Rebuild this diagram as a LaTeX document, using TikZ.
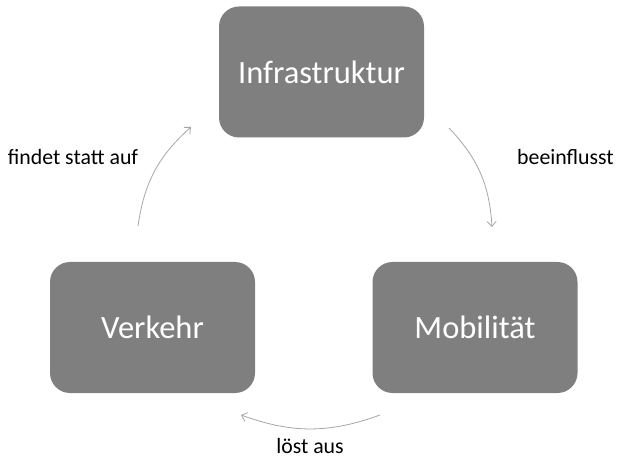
\documentclass[tikz,border=0pt]{standalone}
\usepackage{fontspec}
\setmainfont{Carlito}
\usetikzlibrary{arrows.meta}
\definecolor{boxgray}{HTML}{7F7F7F}
\definecolor{arrowgray}{HTML}{A6A6A6}
\begin{document}
\begin{tikzpicture}[x=1pt,y=1pt,
  box/.style={fill=boxgray, draw=none, rounded corners=20pt, minimum width=205pt, minimum height=131pt, text=white, font=\fontsize{32.5}{36}\selectfont, inner sep=0pt},
  conn/.style={draw=arrowgray, line width=0.8pt, -{Straight Barb[length=5pt,width=9pt]}, bend left=20},
  lbl/.style={font=\fontsize{21.8}{26}\selectfont, text=black, inner sep=0pt}]
\useasboundingbox (0,0) rectangle (618,458);
\node[box] (infra) at (321.5,386) {Infrastruktur};
\node[box] (verk) at (152.5,130.5) {Verkehr};
\node[box] (mob) at (475,130.5) {Mobilität};
\coordinate (a1) at (138,232);
\coordinate (a2) at (191,331);
\coordinate (b1) at (449,330);
\coordinate (b2) at (492,231);
\coordinate (c1) at (380,43);
\coordinate (c2) at (241,43);
\draw[conn] (a1) to (a2);
\draw[conn] (b1) to (b2);
\draw[conn] (c1) to (c2);
\node[lbl] (lf) at (73,301) {findet statt auf};
\node[lbl] (lb) at (565.5,301) {beeinflusst};
\node[lbl, anchor=base] (ll) at (310,5) {löst aus};
\end{tikzpicture}
\end{document}
